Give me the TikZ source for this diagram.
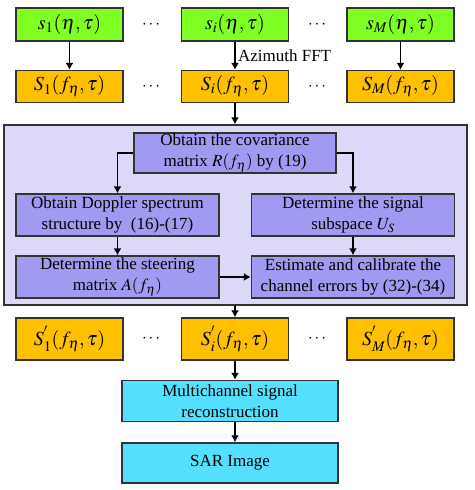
\documentclass[tikz,border=0pt]{standalone}
\usepackage{amsmath}
\usepackage{mathptmx}
\usepackage{fontspec}
\setmainfont{Liberation Serif}
\usepackage{tikz}
\usetikzlibrary{arrows.meta}

\definecolor{sigGreen}{HTML}{80FF22}
\definecolor{sigOrange}{HTML}{FFC000}
\definecolor{coreBack}{HTML}{DCD9F8}
\definecolor{stepPurple}{HTML}{A09AF0}
\definecolor{outCyan}{HTML}{55E0FF}
\definecolor{edgeGray}{HTML}{333333}

\tikzset{
  blk/.style={draw=edgeGray,line width=1.4pt,align=center,inner sep=0pt,
              font=\fontsize{17}{21}\selectfont},
  rawsig/.style={blk,fill=sigGreen,minimum width=107pt,minimum height=33pt,
              font=\fontsize{20}{24}\selectfont},
  fftsig/.style={rawsig,fill=sigOrange,minimum height=32pt},
  calsig/.style={rawsig,fill=sigOrange,minimum height=42pt},
  stepbox/.style={blk,fill=stepPurple,minimum width=203pt,minimum height=42pt},
  outbox/.style={blk,fill=outCyan,minimum width=216pt,minimum height=41pt},
  dots/.style={font=\fontsize{17}{21}\selectfont},
  link/.style={draw=black,line width=1.5pt,-{Latex[length=7pt,width=8pt]}}
}

\begin{document}
\begin{tikzpicture}[x=1pt,y=-1pt]
                \useasboundingbox (0,0) rectangle (474,490);

                % raw channel signals
                \node[rawsig] (g1) at (69.5,24.5) {$s_1(\eta,\tau)$};
                \node[rawsig] (g2) at (235,24.5) {$s_i(\eta,\tau)$};
                \node[rawsig] (g3) at (400.5,24.5) {$s_M(\eta,\tau)$};
                \node[dots] (gd1) at (152,24.5) {$\cdots$};
                \node[dots] (gd2) at (318,24.5) {$\cdots$};

                % after azimuth FFT
                \node[fftsig] (o1) at (69.5,86.5) {$S_1(f_\eta,\tau)$};
                \node[fftsig] (o2) at (235,86.5) {$S_i(f_\eta,\tau)$};
                \node[fftsig] (o3) at (400.5,86.5) {$S_M(f_\eta,\tau)$};
                \node[dots] (od1) at (152,86.5) {$\cdots$};
                \node[dots] (od2) at (318,86.5) {$\cdots$};

                \draw[link] (g1) -- (o1);
                \draw[link] (g2) -- (o2)
                    node[midway,right,xshift=-1pt,font=\fontsize{17}{21}\selectfont] {Azimuth FFT};
                \draw[link] (g3) -- (o3);

                % error estimation block
                \node[draw=edgeGray,line width=1.4pt,fill=coreBack,
                      minimum width=463pt,minimum height=180pt] (core) at (235.5,215) {};
                \node[stepbox,minimum width=202pt,minimum height=40pt] (cov) at (235,153)
                    {Obtain the covariance\\matrix $R(f_\eta)$ by (19)};
                \node[stepbox] (dop) at (117.5,215)
                    {Obtain Doppler spectrum\\structure by\ \ (16)-(17)};
                \node[stepbox] (sub) at (353,215)
                    {Determine the signal\\subspace $U_S$};
                \node[stepbox] (steer) at (117.5,277)
                    {Determine the steering\\matrix $A(f_\eta)$};
                \node[stepbox] (est) at (353,277)
                    {Estimate and calibrate the\\channel errors by (32)-(34)};

                \draw[link] (o2) -- (o2 |- core.north);
                \draw[link] (cov.west) -| (dop.north);
                \draw[link] (cov.east) -| (sub.north);
                \draw[link] (dop) -- (steer);
                \draw[link] (sub) -- (est);
                \draw[link] (steer) -- (est);

                % calibrated signals
                \node[calsig] (r1) at (69.5,339) {$S_1^{'}(f_\eta,\tau)$};
                \node[calsig] (r2) at (235,339) {$S_i^{'}(f_\eta,\tau)$};
                \node[calsig] (r3) at (400.5,339) {$S_M^{'}(f_\eta,\tau)$};
                \node[dots] (rd1) at (152,339) {$\cdots$};
                \node[dots] (rd2) at (318,339) {$\cdots$};

                \draw[link] (core.south -| r2) -- (r2);

                % reconstruction and imaging
                \node[outbox] (rec) at (230,401) {Multichannel signal\\reconstruction};
                \node[outbox,minimum height=40pt] (sar) at (230,463) {SAR Image};

                \draw[link] (r2) -- (r2 |- rec.north);
                \draw[link] (rec.south -| r2) -- (r2 |- sar.north);
            \end{tikzpicture}
\end{document}
